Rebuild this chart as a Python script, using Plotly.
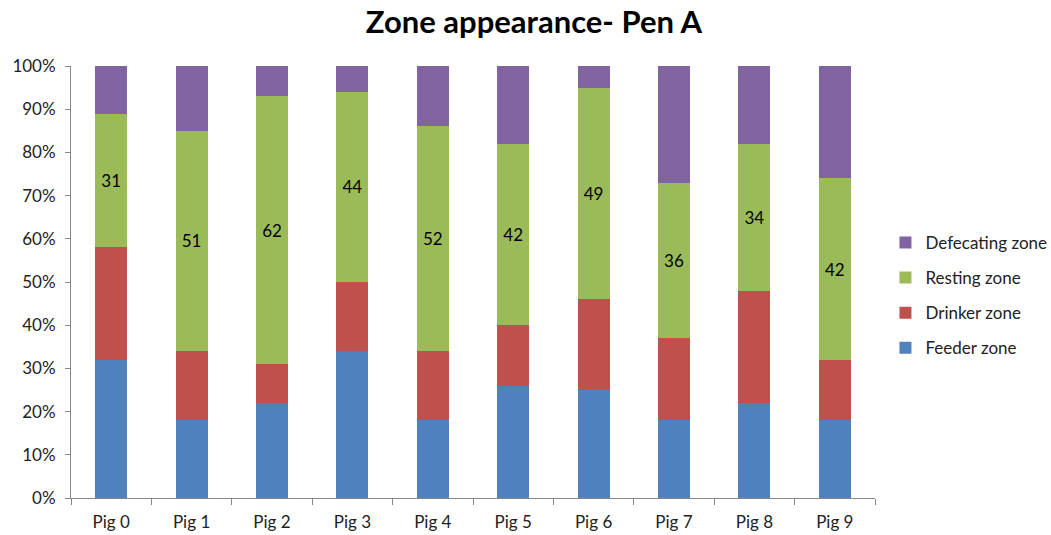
import plotly.graph_objects as go

pigs = ["Pig 0", "Pig 1", "Pig 2", "Pig 3", "Pig 4", "Pig 5", "Pig 6", "Pig 7", "Pig 8", "Pig 9"]
feeder = [32, 18, 22, 34, 18, 26, 25, 18, 22, 18]
drinker = [26, 16, 9, 16, 16, 14, 21, 19, 26, 14]
resting = [31, 51, 62, 44, 52, 42, 49, 36, 34, 42]
defecating = [11, 15, 7, 6, 14, 18, 5, 27, 18, 26]

# (name, values, colour, show value labels, legend rank)
series = [
    ("Feeder zone", feeder, "#4F81BD", False, 4),
    ("Drinker zone", drinker, "#C0504D", False, 3),
    ("Resting zone", resting, "#9BBB59", True, 2),
    ("Defecating zone", defecating, "#8064A2", False, 1),
]

FONT = "Lato, 'Open Sans', sans-serif"

fig = go.Figure()
for name, vals, color, labelled, rank in series:
    fig.add_trace(go.Bar(
        x=pigs, y=vals, name=name, marker=dict(color=color, line=dict(width=0)),
        legendgroup=name, legendrank=rank,
        text=[str(v) for v in vals] if labelled else None,
        textposition="inside" if labelled else "none",
        insidetextanchor="middle",
        textfont=dict(color="black", size=17, family=FONT),
        hoverinfo="x+y+name",
    ))

fig.update_layout(
    width=1051, height=535,
    barmode="stack", barnorm="percent", bargap=0.6,
    plot_bgcolor="white", paper_bgcolor="white",
    margin=dict(l=71, r=176, t=66, b=37, autoexpand=False),
    font=dict(family=FONT, size=17, color="#222"),
    title=dict(text="<b>Zone appearance- Pen A</b>", x=0.508, xref="container",
               y=0.958, yref="container", yanchor="middle",
               font=dict(size=31, color="black", family=FONT)),
    legend=dict(x=1.013, xanchor="left", y=0.469, yanchor="middle",
                traceorder="grouped", tracegroupgap=10,
                font=dict(size=17, color="#222", family=FONT)),
    uniformtext=dict(minsize=8, mode="show"),
)
fig.update_yaxes(range=[0, 100], dtick=10, ticksuffix="%", showgrid=False,
                 showline=True, linecolor="#888", linewidth=1,
                 ticks="outside", ticklen=5, tickcolor="#888", ticklabelstandoff=6,
                 tickfont=dict(size=17, color="#222"), zeroline=False)
fig.update_xaxes(showgrid=False, showline=True, linecolor="#888", linewidth=1,
                 ticks="outside", tickson="boundaries", ticklen=6, tickcolor="#888",
                 ticklabelstandoff=9,
                 tickfont=dict(size=17, color="#222"))

fig.write_html("out.html")
